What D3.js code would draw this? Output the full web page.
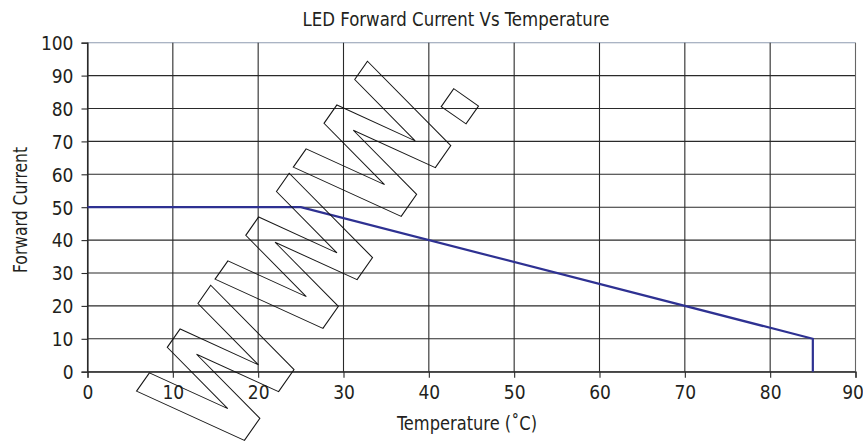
<!DOCTYPE html>
<html>
<head>
<meta charset="utf-8">
<script src="https://cdn.jsdelivr.net/npm/d3@7"></script>
<style>
  html, body { margin: 0; padding: 0; background: #fff; }
  svg { display: block; }
  text { font-family: "DejaVu Sans Condensed", "DejaVu Sans", sans-serif; font-stretch: condensed; fill: #231f20; }
</style>
</head>
<body>
<svg id="chart" width="863" height="443"></svg>
<script>
// ---- data ----
const chartTitle = "LED Forward Current Vs Temperature";
const xAxisTitle = "Temperature (˚C)";
const yAxisTitle = "Forward Current";
const xTicks = [0, 10, 20, 30, 40, 50, 60, 70, 80, 90];
const yTicks = [0, 10, 20, 30, 40, 50, 60, 70, 80, 90, 100];
const temperature = [0, 25, 85, 85];
const forwardCurrent = [50, 50, 10, 0];
const watermarkText = "WWW.";

// ---- layout ----
const plot = { left: 87.5, right: 855.5, top: 42.7, bottom: 371.7 };
const svg = d3.select("#chart");

const x = d3.scaleLinear().domain([0, 90]).range([plot.left, plot.right]);
const y = d3.scaleLinear().domain([0, 100]).range([plot.bottom, plot.top]);

// grid
const grid = svg.append("g");
grid.selectAll("line.h").data(yTicks).join("line")
  .attr("x1", plot.left).attr("x2", plot.right)
  .attr("y1", d => y(d)).attr("y2", d => y(d))
  .attr("stroke", d => d === 100 ? "#8e9bb0" : "#2a2a2a").attr("stroke-width", 1.1);
grid.selectAll("line.v").data(xTicks).join("line")
  .attr("y1", plot.top).attr("y2", plot.bottom)
  .attr("x1", d => x(d)).attr("x2", d => x(d))
  .attr("stroke", d => d === 90 ? "#666" : "#2a2a2a").attr("stroke-width", 1.1);

// axes
const yAxis = d3.axisLeft(y).tickValues(yTicks).tickSize(6).tickPadding(8);
const xAxis = d3.axisBottom(x).tickValues(xTicks).tickSize(6).tickPadding(8);
const gy = svg.append("g").attr("transform", `translate(${plot.left},0)`).call(yAxis);
const gx = svg.append("g").attr("transform", `translate(0,${plot.bottom})`).call(xAxis);
[gx, gy].forEach(g => {
  g.select(".domain").attr("stroke", "#2a2a2a").attr("stroke-width", 1.2);
  g.selectAll(".tick line").attr("stroke", "#2a2a2a").attr("stroke-width", 1.1);
  g.selectAll(".tick text").attr("font-size", 19).attr("fill", "#231f20")
    .style("font-family", '"DejaVu Sans Condensed", "DejaVu Sans", sans-serif');
});
gy.selectAll(".tick text").attr("dy", "0.36em");
gx.selectAll(".tick text").attr("dy", "0.72em").attr("dx", d => d === 90 ? -3 : 0);

// data line
const line = d3.line().x(d => x(d[0])).y(d => y(d[1]));
svg.append("path")
  .datum(temperature.map((t, i) => [t, forwardCurrent[i]]))
  .attr("d", line)
  .attr("fill", "none")
  .attr("stroke", "#2e3192")
  .attr("stroke-width", 2.2);

// titles
svg.append("text").attr("x", 456).attr("y", 26)
  .attr("text-anchor", "middle").attr("font-size", 19)
  .attr("textLength", 307).attr("lengthAdjust", "spacingAndGlyphs")
  .text(chartTitle);
svg.append("text").attr("x", 467).attr("y", 430)
  .attr("text-anchor", "middle").attr("font-size", 19)
  .attr("textLength", 140).attr("lengthAdjust", "spacingAndGlyphs")
  .text(xAxisTitle);
svg.append("text")
  .attr("transform", "translate(27,210) rotate(-90)")
  .attr("text-anchor", "middle").attr("font-size", 19)
  .attr("textLength", 126).attr("lengthAdjust", "spacingAndGlyphs")
  .text(yAxisTitle);

// watermark (outlined text)
svg.append("text")
  .attr("transform", "translate(230,461) rotate(-55)")
  .attr("font-size", 160).attr("font-weight", "bold")
  .attr("textLength", 446).attr("lengthAdjust", "spacingAndGlyphs")
  .style("fill", "none").attr("stroke", "#111").attr("stroke-width", 1.1)
  .text(watermarkText);
</script>
</body>
</html>
